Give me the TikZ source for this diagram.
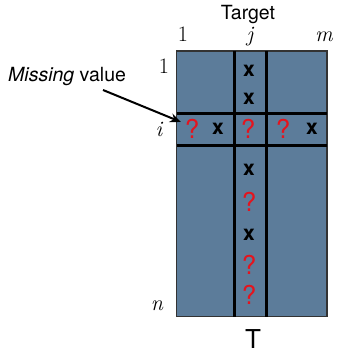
\documentclass[tikz,border=0pt]{standalone}
\usepackage{fontspec}
\setsansfont{TeX Gyre Heros}
\usetikzlibrary{arrows.meta}
\definecolor{cellblue}{RGB}{92,124,154}
\definecolor{qred}{RGB}{228,20,30}
\begin{document}
\begin{tikzpicture}[x=1pt,y=-1pt,
  labeltext/.style={font=\sffamily\fontsize{19.5}{22}\selectfont, inner sep=0pt},
  idx/.style={font=\rmfamily\fontsize{22}{26}\selectfont, inner sep=0pt, anchor=base},
  miss/.style={font=\sffamily\fontsize{26}{30}\selectfont, text=qred, inner sep=0pt},
  obs/.style={font=\sffamily\bfseries\fontsize{21}{24}\selectfont, inner sep=0pt},
  gridline/.style={line width=2.4pt, black},
  pointer/.style={line width=2pt, -{Stealth[length=11pt,width=9pt]}}]
\useasboundingbox (0,0) rectangle (340,352);
% matrix body
\fill[cellblue] (176.5,51) rectangle (327,316.5);
\draw[line width=1.2pt, black!80] (176.5,51) rectangle (327,316.5);
% target column j and row i
\draw[gridline] (234.5,51) -- (234.5,316.5);
\draw[gridline] (266.5,51) -- (266.5,316.5);
\draw[gridline] (176.5,113.5) -- (327,113.5);
\draw[gridline] (176.5,145.5) -- (327,145.5);
% headings
\node[labeltext] (target) at (248,15) {Target};
\node[idx] (c1) at (183,42) {1};
\node[idx] (cj) at (250,42) {\itshape j};
\node[idx] (cm) at (324,42) {\itshape m};
\node[idx] (r1) at (164,74) {1};
\node[idx] (ri) at (159,137) {\itshape i};
\node[idx] (rn) at (157,310) {\itshape n};
\node[font=\sffamily\fontsize{26}{30}\selectfont, inner sep=0pt, anchor=base] (tname) at (253,348.5) {T};
% column j entries
\node[obs] (j1) at (249,71) {x};
\node[obs] (j2) at (249,99) {x};
\node[miss] (ij) at (248,129) {?};
\node[obs] (j4) at (249,170) {x};
\node[miss] (j5) at (249,202) {?};
\node[obs] (j6) at (249,235) {x};
\node[miss] (j7) at (249,265) {?};
\node[miss] (j8) at (249,295) {?};
% row i entries
\node[miss] (i1) at (192,129) {?};
\node[obs] (i2) at (218,129) {x};
\node[miss] (i4) at (283,129) {?};
\node[obs] (i5) at (312,129) {x};
% annotation
\node[labeltext, anchor=base west] (missing) at (8,82) {\textit{Missing} value};
\coordinate (tail) at (103,90);
\coordinate (cell) at (181,122);
\draw[pointer] (tail) -- (cell);
\end{tikzpicture}
\end{document}
